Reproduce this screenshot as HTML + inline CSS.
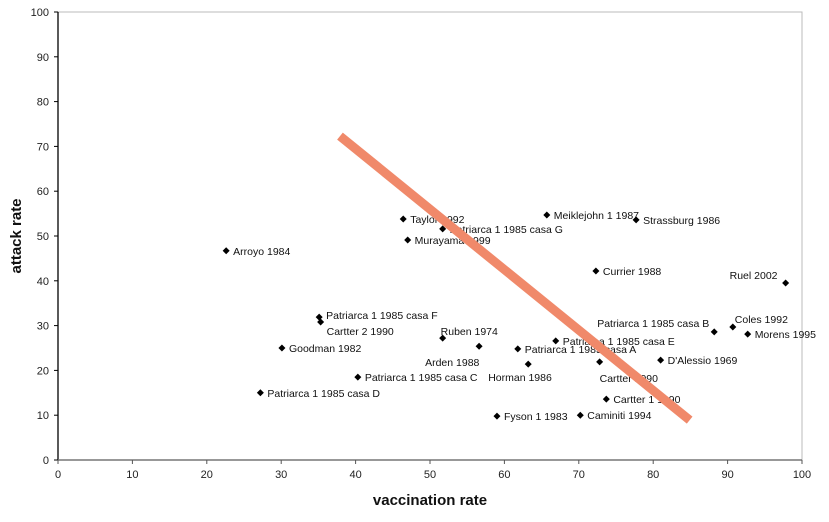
<!DOCTYPE html>
<html><head><meta charset="utf-8"><style>
html,body{margin:0;padding:0;background:#fff;}
svg{display:block;font-family:"Liberation Sans",Arial,sans-serif;}
</style></head><body>
<svg id="chart" width="829" height="522">
</svg>
<script>
const names=["Arroyo 1984","Taylor 1992","Patriarca 1 1985 casa G","Murayama 1999","Meiklejohn 1 1987","Strassburg 1986","Currier 1988","Ruel 2002","Patriarca 1 1985 casa F","Cartter 2 1990","Ruben 1974","Arden 1988","Goodman 1982","Patriarca 1 1985 casa A","Patriarca 1 1985 casa E","Horman 1986","Cartter 1990","Patriarca 1 1985 casa C","D'Alessio 1969","Patriarca 1 1985 casa B","Coles 1992","Morens 1995","Patriarca 1 1985 casa D","Cartter 1 1990","Fyson 1 1983","Caminiti 1994"];
const vacc=[22.6,46.4,51.7,47.0,65.7,77.7,72.3,97.8,35.1,35.3,51.7,56.6,30.1,61.8,66.9,63.2,72.8,40.3,81.0,88.2,90.7,92.7,27.2,73.7,59.0,70.2];
const attack=[46.7,53.8,51.6,49.1,54.7,53.6,42.2,39.5,31.9,30.8,27.2,25.4,25.0,24.8,26.6,21.4,21.9,18.5,22.3,28.6,29.7,28.1,15.0,13.6,9.8,10.0];
const trendX=[37.9,84.9];
const trendY=[72.3,8.9];
const xTicks=[0,10,20,30,40,50,60,70,80,90,100];
const yTicks=[0,10,20,30,40,50,60,70,80,90,100];
// label offsets (styling only)
const off={"Ruel 2002":[-56,-8],"Patriarca 1 1985 casa B":[-117,-9],"Ruben 1974":[-2,-7],"Arden 1988":[-54,16],"Horman 1986":[-40,13],"Cartter 1990":[0,16],"Coles 1992":[2,-8],"Patriarca 1 1985 casa F":[7,-2],"Cartter 2 1990":[6,9]};
const svg=document.getElementById('chart');
const NS="http://www.w3.org/2000/svg";
const X0=58,X1=802,Y0=460,Y1=12;
const sx=v=>X0+(X1-X0)*v/100, sy=v=>Y0-(Y0-Y1)*v/100;
function mk(t,a,txt){const e=document.createElementNS(NS,t);for(const k in a)e.setAttribute(k,a[k]);if(txt!==undefined)e.textContent=txt;svg.appendChild(e);return e;}
let e=mk('rect',{x:X0,y:Y1,width:X1-X0,height:Y0-Y1,fill:'#fff',stroke:'#bbb','stroke-width':1});


e=mk('line',{x1:X0,y1:Y1,x2:X0,y2:Y0,stroke:'#000','stroke-width':1.3});


e=mk('line',{x1:X0,y1:Y0,x2:X1,y2:Y0,stroke:'#777','stroke-width':1.5});


yTicks.forEach(t=>{
 mk('line',{x1:X0-4,y1:sy(t),x2:X0,y2:sy(t),stroke:'#000'});
 e=mk('text',{x:X0-9,y:sy(t)+4,'text-anchor':'end','font-size':11,fill:'#222'},t);
 
 
});
xTicks.forEach(t=>{
 mk('line',{x1:sx(t),y1:Y0,x2:sx(t),y2:Y0+4,stroke:'#555'});
 e=mk('text',{x:sx(t),y:Y0+18,'text-anchor':'middle','font-size':11,fill:'#222'},t);
 
 
});
e=mk('text',{x:430,y:505,'text-anchor':'middle','font-size':15,'font-weight':'bold',fill:'#111'},'vaccination rate');


e=mk('text',{x:21,y:236,'text-anchor':'middle','font-size':15,'font-weight':'bold',fill:'#111',transform:'rotate(-90 21 236)'},'attack rate');


names.forEach((n,i)=>{
 const px=sx(vacc[i]),py=sy(attack[i]);
 e=mk('polygon',{points:`${px},${py-3.5} ${px+3.5},${py} ${px},${py+3.5} ${px-3.5},${py}`,fill:'#000'});
 
 
 const o=off[n]||[7,0];
 e=mk('text',{x:px+o[0],y:py+o[1]+4,'font-size':10.5,fill:'#111'},n);
 
 
});
e=mk('line',{x1:sx(trendX[0]),y1:sy(trendY[0]),x2:sx(trendX[1]),y2:sy(trendY[1]),stroke:'#f0896a','stroke-width':9});


</script>
</body></html>
